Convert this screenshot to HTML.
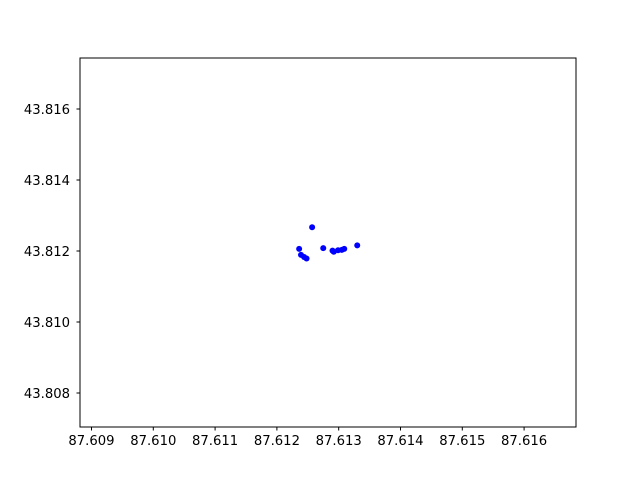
<!DOCTYPE html>
<html><head><meta charset="utf-8"><style>body{margin:0;background:#fff}svg{display:block}text{font-family:"DejaVu Sans","Liberation Sans",sans-serif;font-size:13.2px;fill:#000}</style></head>
<body>
<svg id="chart" width="640" height="480"></svg>
<script>
const xs=[87.61257,87.61236,87.61239,87.61244,87.61248,87.61275,87.61290,87.61292,87.61299,87.61305,87.61309,87.61330];
const ys=[43.81267,43.81206,43.81189,43.81183,43.81179,43.81208,43.81201,43.81198,43.81202,43.81203,43.81206,43.81216];
const xTicks=[87.609,87.610,87.611,87.612,87.613,87.614,87.615,87.616];
const yTicks=[43.808,43.810,43.812,43.814,43.816];
const L=80,R=576,T=58,B=427;
const x0=87.608814,x1=87.616840,y0=43.807042,y1=43.817437;
const sx=v=>L+(v-x0)/(x1-x0)*(R-L);
const sy=v=>B-(v-y0)/(y1-y0)*(B-T);
const svg=document.getElementById('chart');const NS='http://www.w3.org/2000/svg';
function mk(t,a){const e=document.createElementNS(NS,t);for(const k in a)e.setAttribute(k,a[k]);svg.appendChild(e);return e;}
const fr=mk('rect',{x:L,y:T,width:R-L,height:B-T,fill:'none',stroke:'#000','stroke-width':1});


xTicks.forEach(v=>{const X=sx(v);
const l=mk('line',{x1:X,x2:X,y1:B,y2:B+3.5,stroke:'#000'});


const t=mk('text',{x:X,y:B+18,'text-anchor':'middle'});t.textContent=v.toFixed(3);

});
yTicks.forEach(v=>{const Y=sy(v);
const l=mk('line',{x1:L-3.5,x2:L,y1:Y,y2:Y,stroke:'#000'});


const t=mk('text',{x:L-10,y:Y+5,'text-anchor':'end'});t.textContent=v.toFixed(3);

});
xs.forEach((v,i)=>{const c=mk('circle',{cx:sx(v),cy:sy(ys[i]),r:3,fill:'#0000ff'});

});
</script>
</body></html>
